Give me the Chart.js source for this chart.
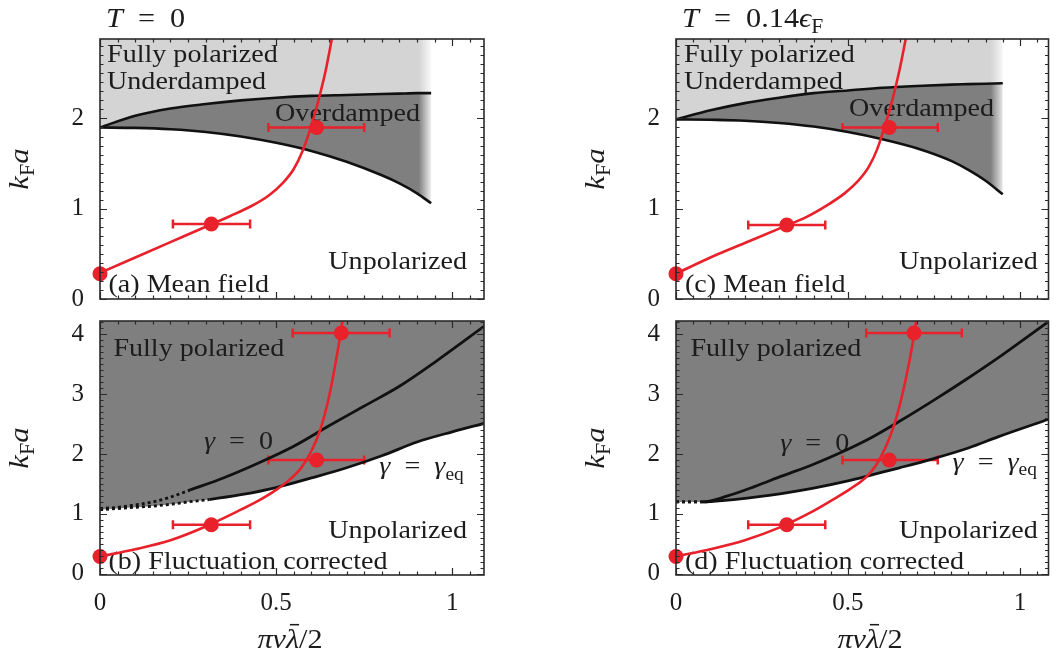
<!DOCTYPE html>
<html><head><meta charset="utf-8">
<script src="https://cdn.jsdelivr.net/npm/chart.js@4.4.1/dist/chart.umd.min.js"></script>
<style>
body{margin:0;background:#fff;width:1056px;height:659px;overflow:hidden;position:relative}
canvas{position:absolute}
</style></head><body>
<canvas id="pa" width="528" height="330" style="left:0;top:0"></canvas>
<canvas id="pb" width="528" height="369" style="left:0;top:290px"></canvas>
<canvas id="pc" width="496" height="330" style="left:560px;top:0"></canvas>
<canvas id="pd" width="496" height="369" style="left:560px;top:290px"></canvas>
<script>
const SERIF = '"Liberation Serif", "Times New Roman", serif';
const INK = '#1c1c1c';
const RED = '#e8212b';
const DARK = '#7f7f7f';
const LIGHT = '#d4d4d4';

// (a) T = 0, mean field
const aBoundX = [0, 0.1, 0.2, 0.3, 0.4, 0.5, 0.6, 0.7, 0.8, 0.85, 0.9, 0.94];
const aUpper = [1.9, 2.03, 2.11, 2.16, 2.2, 2.23, 2.25, 2.26, 2.27, 2.275, 2.28, 2.28];
const aLower = [1.9, 1.895, 1.88, 1.85, 1.8, 1.73, 1.64, 1.52, 1.37, 1.28, 1.17, 1.06];
const aCurveX = [0, 0.1, 0.2, 0.3, 0.37, 0.43, 0.48, 0.52, 0.55, 0.575, 0.6, 0.62, 0.64, 0.66];
const aCurveY = [0.29, 0.46, 0.63, 0.8, 0.92, 1.03, 1.15, 1.29, 1.44, 1.64, 1.92, 2.2, 2.52, 2.92];
const aPtX = [0, 0.316, 0.615];
const aPtY = [0.28, 0.83, 1.9];
const aErrLo = [null, 0.207, 0.478];
const aErrHi = [null, 0.426, 0.75];

// (b) T = 0, fluctuation corrected
const bGamma0X = [0, 0.05, 0.1, 0.15, 0.2, 0.256, 0.35, 0.45, 0.55, 0.65, 0.75, 0.85, 0.95, 1.09];
const bGamma0Y = [1.09, 1.11, 1.15, 1.2, 1.28, 1.4, 1.6, 1.85, 2.13, 2.47, 2.8, 3.13, 3.53, 4.13];
const bEqX = [0, 0.05, 0.1, 0.15, 0.2, 0.25, 0.31, 0.4, 0.5, 0.6, 0.7, 0.8, 0.9, 1.0, 1.09];
const bEqY = [1.07, 1.09, 1.11, 1.13, 1.16, 1.2, 1.24, 1.32, 1.44, 1.6, 1.77, 1.97, 2.2, 2.37, 2.51];
const bCurveX = [0, 0.1, 0.2, 0.3, 0.4, 0.45, 0.5, 0.54, 0.57, 0.6, 0.625, 0.65, 0.665, 0.677, 0.684, 0.689];
const bCurveY = [0.29, 0.41, 0.56, 0.79, 1.07, 1.22, 1.4, 1.58, 1.76, 2.05, 2.4, 2.95, 3.4, 3.8, 4.05, 4.25];
const bPtX = [0, 0.316, 0.615, 0.685];
const bPtY = [0.29, 0.82, 1.9, 4.02];
const bErrLo = [null, 0.207, 0.478, 0.547];
const bErrHi = [null, 0.426, 0.75, 0.822];

// (c) T = 0.14 eF, mean field
const cBoundX = [0, 0.1, 0.2, 0.3, 0.4, 0.5, 0.6, 0.7, 0.8, 0.85, 0.9, 0.95];
const cUpper = [1.99, 2.09, 2.17, 2.23, 2.28, 2.31, 2.34, 2.36, 2.375, 2.38, 2.385, 2.39];
const cLower = [1.99, 1.985, 1.975, 1.95, 1.91, 1.85, 1.77, 1.67, 1.53, 1.43, 1.31, 1.16];
const cCurveX = [0, 0.1, 0.2, 0.3, 0.38, 0.44, 0.49, 0.53, 0.56, 0.585, 0.61, 0.63, 0.65, 0.67];
const cCurveY = [0.28, 0.46, 0.62, 0.78, 0.91, 1.04, 1.17, 1.31, 1.46, 1.66, 1.95, 2.22, 2.54, 2.92];
const cPtX = [0, 0.322, 0.62];
const cPtY = [0.28, 0.82, 1.9];
const cErrLo = [null, 0.21, 0.484];
const cErrHi = [null, 0.434, 0.761];

// (d) T = 0.14 eF, fluctuation corrected
const dGamma0X = [0, 0.04, 0.078, 0.15, 0.23, 0.307, 0.4, 0.489, 0.57, 0.651, 0.75, 0.842, 0.95, 1.083];
const dGamma0Y = [1.2, 1.2, 1.2, 1.3, 1.46, 1.63, 1.83, 2.05, 2.28, 2.55, 2.9, 3.24, 3.66, 4.21];
const dEqX = [0, 0.04, 0.078, 0.15, 0.23, 0.307, 0.4, 0.5, 0.575, 0.65, 0.747, 0.85, 0.938, 1.083];
const dEqY = [1.2, 1.2, 1.2, 1.23, 1.28, 1.34, 1.43, 1.55, 1.66, 1.77, 1.92, 2.1, 2.29, 2.58];
const dCurveX = [0, 0.1, 0.2, 0.3, 0.4, 0.46, 0.51, 0.55, 0.58, 0.61, 0.635, 0.655, 0.672, 0.685, 0.693, 0.699];
const dCurveY = [0.29, 0.41, 0.56, 0.77, 1.05, 1.25, 1.43, 1.6, 1.8, 2.12, 2.5, 2.92, 3.36, 3.75, 4.03, 4.25];
const dPtX = [0, 0.322, 0.62, 0.692];
const dPtY = [0.29, 0.82, 1.9, 4.02];
const dErrLo = [null, 0.21, 0.484, 0.553];
const dErrHi = [null, 0.434, 0.761, 0.831];

function pts(xs, ys) { return xs.map((x, i) => ({x: x, y: ys[i]})); }

// fill colour that fades out towards the right edge of the shaded region
function fade(col, clear, x0, x1) {
  return c => {
    const ch = c.chart, xs = ch.scales.x;
    if (!ch.chartArea || !xs) return col;
    const g = ch.ctx.createLinearGradient(xs.getPixelForValue(x0), 0, xs.getPixelForValue(x1), 0);
    g.addColorStop(0, col);
    g.addColorStop(1, clear);
    return g;
  };
}

// parts: [text, style]  i = italic, r = roman, s = subscript, ib = italic with bar
function drawRich(ctx, parts, x, y, size, align, stretch) {
  const sx = stretch || 1;
  const fontOf = st => (st === 'i' || st === 'ib' ? 'italic ' : '') + Math.round(st === 's' ? size * 0.7 : size) + 'px ' + SERIF;
  let w = 0;
  parts.forEach(([t, st]) => { ctx.font = fontOf(st); w += ctx.measureText(t).width; });
  w *= sx;
  const left = align === 'right' ? x - w : align === 'center' ? x - w / 2 : x;
  ctx.save();
  ctx.translate(left, y);
  ctx.scale(sx, 1);
  let cx = 0;
  parts.forEach(([t, st]) => {
    ctx.font = fontOf(st);
    const tw = ctx.measureText(t).width;
    ctx.fillText(t, cx, st === 's' ? size * 0.22 : 0);
    if (st === 'ib') ctx.fillRect(cx + tw * 0.3, -size * 0.86, tw * 0.7, size * 0.055);
    cx += tw;
  });
  ctx.restore();
}

function tickMarks(ctx, scale, a, horiz, minor, major) {
  const start = Math.ceil((scale.min - 1e-9) / minor);
  ctx.beginPath();
  for (let k = start; k * minor <= scale.max + 1e-9; k++) {
    const v = k * minor;
    const big = Math.abs(v / major - Math.round(v / major)) < 1e-6;
    const L = big ? 7 : 3.5;
    const p = Math.round(scale.getPixelForValue(v)) + 0.5;
    if (horiz) {
      ctx.moveTo(p, a.bottom); ctx.lineTo(p, a.bottom - L);
      ctx.moveTo(p, a.top); ctx.lineTo(p, a.top + L);
    } else {
      ctx.moveTo(a.left, p); ctx.lineTo(a.left + L, p);
      ctx.moveTo(a.right, p); ctx.lineTo(a.right - L, p);
    }
  }
  ctx.stroke();
}

function panelPlugin(p) {
  return {
    id: 'panel',
    beforeDatasetsDraw(chart) {
      const ctx = chart.ctx, xs = chart.scales.x, ys = chart.scales.y;
      ctx.save();
      ctx.fillStyle = INK;
      ctx.textBaseline = 'alphabetic';
      p.labels.forEach(l => drawRich(ctx, l.parts, xs.getPixelForValue(l.x), ys.getPixelForValue(l.y), 26, l.align, 1.08));
      ctx.strokeStyle = RED;
      ctx.lineWidth = 2.5;
      p.errLo.forEach((lo, i) => {
        if (lo == null) return;
        const y = ys.getPixelForValue(p.ptY[i]);
        const x0 = xs.getPixelForValue(lo), x1 = xs.getPixelForValue(p.errHi[i]);
        ctx.beginPath();
        ctx.moveTo(x0, y); ctx.lineTo(x1, y);
        ctx.moveTo(x0, y - 4.5); ctx.lineTo(x0, y + 4.5);
        ctx.moveTo(x1, y - 4.5); ctx.lineTo(x1, y + 4.5);
        ctx.stroke();
      });
      ctx.restore();
    },
    afterDraw(chart) {
      const ctx = chart.ctx, a = chart.chartArea;
      ctx.save();
      ctx.strokeStyle = '#2a2a2a';
      ctx.lineWidth = 1.6;
      ctx.strokeRect(a.left, a.top, a.right - a.left, a.bottom - a.top);
      ctx.lineWidth = 1.2;
      tickMarks(ctx, chart.scales.x, a, true, 0.05, 0.5);
      tickMarks(ctx, chart.scales.y, a, false, 0.1, 1);
      ctx.fillStyle = INK;
      ctx.textBaseline = 'alphabetic';
      if (p.title) drawRich(ctx, p.title, a.left + 6, 27, 28, 'left', 1.08);
      // y axis title k_F a
      ctx.save();
      ctx.translate(a.left - 72, (a.top + a.bottom) / 2);
      ctx.rotate(-Math.PI / 2);
      drawRich(ctx, [['k', 'i'], ['F', 's'], ['a', 'i']], 0, 0, 28, 'center', 1.1);
      ctx.restore();
      if (p.xTitle) drawRich(ctx, [['π', 'i'], ['ν', 'i'], ['λ', 'ib'], ['/2', 'r']], p.xTitleX, 358, 28, 'center', 1.08);
      ctx.restore();
    }
  };
}

function makePanel(id, p) {
  const datasets = [
    { data: pts(p.ptX, p.ptY), showLine: false, pointRadius: 7.5, pointHoverRadius: 7.5,
      pointBackgroundColor: RED, pointBorderWidth: 0, clip: false },
    { data: pts(p.curveX, p.curveY), borderColor: RED, borderWidth: 2.6, pointRadius: 0,
      cubicInterpolationMode: 'monotone', fill: false }
  ].concat(p.black);
  new Chart(document.getElementById(id), {
    type: 'line',
    data: { datasets: datasets },
    options: {
      responsive: false,
      animation: false,
      devicePixelRatio: 1,
      events: [],
      layout: { padding: { left: 0, top: p.padT, right: p.padR, bottom: p.padB } },
      plugins: { legend: { display: false }, tooltip: { enabled: false }, filler: { drawTime: 'beforeDatasetsDraw' } },
      scales: {
        x: {
          type: 'linear', min: 0, max: p.xmax, display: p.showX,
          afterFit: s => { s.height = p.showX ? 84 : 0; },
          grid: { display: false, drawTicks: false }, border: { display: false },
          ticks: { stepSize: 0.5, includeBounds: false, autoSkip: false, maxRotation: 0, padding: 13,
                   callback: v => String(+v.toFixed(2)),
                   color: INK, font: { family: SERIF, size: 25 } }
        },
        y: {
          type: 'linear', min: p.ymin, max: p.ymax,
          afterFit: s => { s.width = p.yAxisW; },
          grid: { display: false, drawTicks: false }, border: { display: false },
          ticks: { stepSize: 1, includeBounds: false, autoSkip: false, padding: 16,
                   callback: v => String(+v.toFixed(2)),
                   color: INK, font: { family: SERIF, size: 25 } }
        }
      }
    },
    plugins: [panelPlugin(p)]
  });
}

function meanFieldLines(bx, up, lo, f0, f1) {
  return [
    { data: pts(bx, up), borderColor: '#111', borderWidth: 2.6, pointRadius: 0, cubicInterpolationMode: 'monotone',
      fill: 'end', backgroundColor: fade(LIGHT, 'rgba(212,212,212,0)', f0, f1) },
    { data: pts(bx, lo), borderColor: '#111', borderWidth: 2.6, pointRadius: 0, cubicInterpolationMode: 'monotone',
      fill: 2, backgroundColor: fade(DARK, 'rgba(127,127,127,0)', f0, f1) }
  ];
}

function flucLines(gx, gy, gEnd, ex, ey, eEnd) {
  return [
    { data: pts(gx, gy), borderColor: '#111', borderWidth: 2.8, pointRadius: 0, cubicInterpolationMode: 'monotone', fill: false,
      segment: { borderDash: c => (c.p1.parsed.x <= gEnd + 1e-6 ? [3, 3] : undefined) } },
    { data: pts(ex, ey), borderColor: '#111', borderWidth: 2.8, pointRadius: 0, cubicInterpolationMode: 'monotone', fill: false,
      segment: { borderDash: c => (c.p1.parsed.x <= eEnd + 1e-6 ? [3, 3] : undefined) } },
    // shaded polarized region above the gamma_eq boundary
    { data: pts(ex, ey), borderWidth: 0, pointRadius: 0, cubicInterpolationMode: 'monotone',
      fill: 'end', backgroundColor: DARK }
  ];
}

const R = 'r';
const SP = '\u2002';
makePanel('pa', {
  xmax: 1.09, ymin: 0, ymax: 2.88, yAxisW: 100, padT: 39, padR: 44, padB: 23, showX: false,
  ptX: aPtX, ptY: aPtY, errLo: aErrLo, errHi: aErrHi, curveX: aCurveX, curveY: aCurveY,
  black: meanFieldLines(aBoundX, aUpper, aLower, 0.905, 0.945),
  title: [['T', 'i'], [SP + '=' + SP + '0', R]],
  labels: [
    { parts: [['Fully polarized', R]], x: 0.02, y: 2.63 },
    { parts: [['Underdamped', R]], x: 0.02, y: 2.33 },
    { parts: [['Overdamped', R]], x: 0.497, y: 1.97 },
    { parts: [['Unpolarized', R]], x: 1.042, y: 0.33, align: 'right' },
    { parts: [['(a) Mean field', R]], x: 0.024, y: 0.075 }
  ]
});
makePanel('pb', {
  xmax: 1.09, ymin: -0.02, ymax: 4.22, yAxisW: 100, padT: 17, padR: 44, padB: 0, showX: true,
  ptX: bPtX, ptY: bPtY, errLo: bErrLo, errHi: bErrHi, curveX: bCurveX, curveY: bCurveY,
  black: flucLines(bGamma0X, bGamma0Y, 0.256, bEqX, bEqY, 0.31),
  xTitle: true, xTitleX: 290,
  labels: [
    { parts: [['Fully polarized', R]], x: 0.038, y: 3.63 },
    { parts: [['γ', 'i'], [SP + '=' + SP + '0', R]], x: 0.295, y: 2.08 },
    { parts: [['γ', 'i'], [SP + '=' + SP, R], ['γ', 'i'], ['eq', 's']], x: 0.793, y: 1.66 },
    { parts: [['Unpolarized', R]], x: 1.042, y: 0.6, align: 'right' },
    { parts: [['(b) Fluctuation corrected', R]], x: 0.024, y: 0.08 }
  ]
});
makePanel('pc', {
  xmax: 1.083, ymin: 0, ymax: 2.88, yAxisW: 116, padT: 39, padR: 2, padB: 23, showX: false,
  ptX: cPtX, ptY: cPtY, errLo: cErrLo, errHi: cErrHi, curveX: cCurveX, curveY: cCurveY,
  black: meanFieldLines(cBoundX, cUpper, cLower, 0.915, 0.958),
  title: [['T', 'i'], [SP + '=' + SP + '0.14', R], ['ϵ', 'i'], ['F', 's']],
  labels: [
    { parts: [['Fully polarized', R]], x: 0.023, y: 2.62 },
    { parts: [['Underdamped', R]], x: 0.023, y: 2.33 },
    { parts: [['Overdamped', R]], x: 0.503, y: 2.03 },
    { parts: [['Unpolarized', R]], x: 1.052, y: 0.33, align: 'right' },
    { parts: [['(c) Mean field', R]], x: 0.026, y: 0.075 }
  ]
});
makePanel('pd', {
  xmax: 1.083, ymin: -0.02, ymax: 4.22, yAxisW: 116, padT: 17, padR: 2, padB: 0, showX: true,
  ptX: dPtX, ptY: dPtY, errLo: dErrLo, errHi: dErrHi, curveX: dCurveX, curveY: dCurveY,
  black: flucLines(dGamma0X, dGamma0Y, 0.078, dEqX, dEqY, 0.078),
  xTitle: true, xTitleX: 310,
  labels: [
    { parts: [['Fully polarized', R]], x: 0.042, y: 3.63 },
    { parts: [['γ', 'i'], [SP + '=' + SP + '0', R]], x: 0.303, y: 2.05 },
    { parts: [['γ', 'i'], [SP + '=' + SP, R], ['γ', 'i'], ['eq', 's']], x: 0.804, y: 1.74 },
    { parts: [['Unpolarized', R]], x: 1.052, y: 0.6, align: 'right' },
    { parts: [['(d) Fluctuation corrected', R]], x: 0.026, y: 0.08 }
  ]
});
</script>
</body></html>
